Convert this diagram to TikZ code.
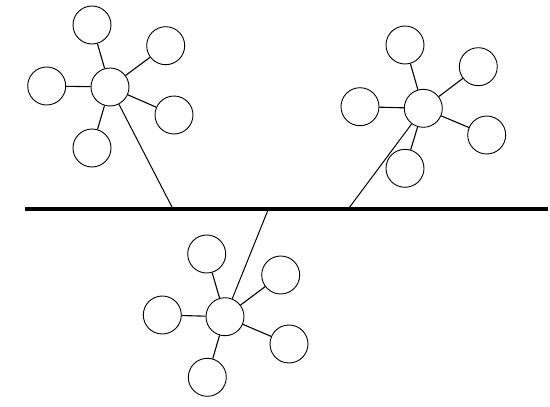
\documentclass[tikz,border=0pt]{standalone}
\begin{document}
\begin{tikzpicture}[x=1pt,y=-1pt,
  station/.style={circle,draw=black,line width=0.9pt,minimum size=38pt,inner sep=0pt},
  spoke/.style={draw=black,line width=1.1pt},
  bus/.style={draw=black,line width=4.6pt},
  drop/.style={draw=black,line width=1pt}]
\useasboundingbox[fill=white] (0,0) rectangle (550,407);

% backbone bus
\coordinate (busL) at (25,209);
\coordinate (busR) at (548,209);
\draw[bus] (busL) -- (busR);

% taps on the bus
\coordinate (tap1) at (172.5,208);
\coordinate (tap2) at (349,208);
\coordinate (tap3) at (268,210);

% star 1
\node[station] (h1) at (110,87) {};
\node[station] (a1) at (92,25) {};
\node[station] (b1) at (165.7,45.7) {};
\node[station] (c1) at (46.7,86) {};
\node[station] (d1) at (174,115) {};
\node[station] (e1) at (92,148) {};
\foreach \s in {a1,b1,c1,d1,e1} \draw[spoke] (h1) -- (\s);
\draw[drop] (h1) -- (tap1);

% star 2
\node[station] (h2) at (423.3,108.3) {};
\node[station] (a2) at (405,45) {};
\node[station] (b2) at (478.3,66.7) {};
\node[station] (c2) at (360,106.7) {};
\node[station] (d2) at (486.7,135) {};
\node[station] (e2) at (405,168.3) {};
\foreach \s in {a2,b2,c2,d2,e2} \draw[spoke] (h2) -- (\s);
\draw[drop] (h2) -- (tap2);

% star 3
\node[station] (h3) at (225,316.7) {};
\node[station] (a3) at (206.7,254) {};
\node[station] (b3) at (280.7,275) {};
\node[station] (c3) at (162.3,315) {};
\node[station] (d3) at (289,344) {};
\node[station] (e3) at (207.3,377.3) {};
\foreach \s in {a3,b3,c3,d3,e3} \draw[spoke] (h3) -- (\s);
\draw[drop] (h3) -- (tap3);
\end{tikzpicture}
\end{document}
